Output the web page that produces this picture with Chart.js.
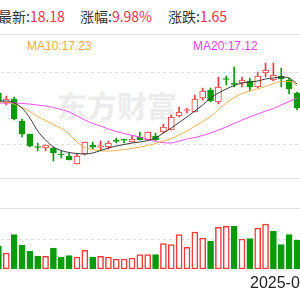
<!DOCTYPE html>
<html><head><meta charset="utf-8">
<script src="https://cdn.jsdelivr.net/npm/chart.js@4.4.1/dist/chart.umd.min.js"></script>
<style>
html,body{margin:0;padding:0;background:#fff;}
body{width:300px;height:300px;overflow:hidden;position:relative;font-family:"Noto Sans CJK SC","Liberation Sans",sans-serif;}
.abs{position:absolute;white-space:nowrap;}
.hd{top:6px;font-size:14px;line-height:20px;color:#333;}
.red{color:#f2334b;}
.ma{top:39px;font-family:"Liberation Sans",Arial,sans-serif;font-size:12px;line-height:14px;}
.line{position:absolute;left:0;width:300px;height:1px;background:#e2e2e2;}
#wm{left:57px;top:86px;font-size:30px;line-height:36px;color:#ececec;font-weight:bold;}
canvas{position:absolute;}
#date{left:250px;top:273px;font-family:"Liberation Sans",Arial,sans-serif;font-size:16px;line-height:20px;color:#222;}
</style></head>
<body>
<div class="abs hd" style="left:-2px">最新:<span class="red">18.18</span></div>
<div class="abs hd" style="left:80px">涨幅:<span class="red">9.98%</span></div>
<div class="abs hd" style="left:168px">涨跌:<span class="red">1.65</span></div>
<div class="line" style="top:34px"></div>
<div class="abs ma" style="left:27px;color:#f5ab3c">MA10:17.23</div>
<div class="abs ma" style="left:193px;color:#f03ef0">MA20:17.12</div>
<div id="wm" class="abs">东方财富</div>
<canvas id="k" width="307" height="144" style="left:-6px;top:36px;width:307px;height:144px"></canvas>
<div class="line" style="top:178px"></div>
<div class="line" style="top:208px"></div>
<canvas id="v" width="307" height="60" style="left:-6px;top:209px;width:307px;height:60px"></canvas>
<div id="date" class="abs">2025-0</div>
<script>
// trading-day index (dates not visible in the crop)
const days = ['1','2','3','4','5','6','7','8','9','10','11','12','13','14','15','16','17','18','19','20',
              '21','22','23','24','25','26','27','28','29','30','31','32','33','34','35','36','37','38','39'];
const open  = [17.23,16.83,16.99,16.11,15.59,15.09,15.03,15.03,14.77,14.71,14.39,14.79,15.15,15.06,15.07,15.35,15.36,15.27,15.47,15.35,
               15.51,15.67,15.75,16.31,16.53,16.47,17.03,17.35,16.87,17.79,17.63,17.63,17.71,17.47,18.03,17.75,17.91,17.75,17.23];
const high  = [17.35,17.11,17.07,16.19,15.59,15.23,15.15,15.07,14.91,14.83,14.79,15.27,15.27,15.31,15.31,15.43,15.39,15.51,15.67,15.67,
               15.63,15.99,16.35,16.67,16.63,17.15,17.43,17.43,17.87,17.91,18.27,17.87,17.83,18.07,18.43,18.43,18.23,17.83,17.27];
const low   = [16.75,16.75,16.15,15.47,15.07,14.91,14.91,14.51,14.63,14.55,14.39,14.75,14.99,14.95,14.99,15.23,15.23,15.27,15.35,15.33,
               15.33,15.63,15.75,16.27,16.43,16.47,16.95,16.87,16.79,17.55,17.47,17.47,17.31,17.43,17.87,17.71,17.47,17.19,16.55];
const close = [16.87,16.99,16.19,15.59,15.11,15.05,15.15,14.83,14.75,14.55,14.71,15.27,15.06,15.12,15.23,15.29,15.34,15.39,15.35,15.67,
               15.35,15.87,16.27,16.47,16.57,16.99,17.31,16.91,17.47,17.77,17.57,17.75,17.47,17.91,18.15,17.95,17.79,17.39,16.63];
const ma5   = [16.91,16.91,16.83,16.63,16.23,15.71,15.35,15.07,14.93,14.85,14.81,14.79,14.83,14.93,15.03,15.11,15.17,15.23,15.27,15.33,
               15.43,15.63,15.83,16.05,16.27,16.51,16.75,17.03,17.23,17.39,17.53,17.63,17.67,17.71,17.79,17.83,17.87,17.83,17.59];
const ma10  = [16.87,16.87,16.79,16.65,16.49,16.29,16.13,15.97,15.81,15.59,15.27,15.05,14.97,14.91,14.91,14.93,14.97,15.01,15.07,15.13,
               15.21,15.31,15.41,15.55,15.71,15.91,16.09,16.29,16.57,16.83,17.05,17.21,17.31,17.39,17.49,17.61,17.69,17.69,17.53];
const ma20  = [16.83,16.83,16.83,16.81,16.79,16.75,16.71,16.65,16.57,16.47,16.31,16.15,16.01,15.91,15.79,15.69,15.61,15.53,15.47,15.37,
               15.29,15.24,15.23,15.31,15.39,15.45,15.53,15.63,15.75,15.87,16.01,16.15,16.27,16.39,16.51,16.61,16.75,16.89,17.03];
const volume = [22.6,16.0,34.3,23.6,17.6,12.6,12.6,21.0,12.0,13.3,12.0,18.6,12.0,12.6,12.0,10.0,10.0,11.0,14.3,14.3,
                14.3,25.3,24.3,34.3,21.6,37.0,31.0,27.6,41.6,42.6,42.6,30.0,30.3,41.0,45.0,37.6,24.3,34.3,28.6];
const volUp  = [0,1,0,0,0,0,1,0,0,0,1,1,0,1,1,1,1,1,1,1,0,1,1,1,1,1,1,0,1,1,0,1,0,1,1,0,0,0,0];
const priceGrid = [18.07,15.19];
const volGrid = [30];

const RED = '#f23a3a', GREEN = '#0b9a0b';
const up = open.map((o,i)=>close[i] >= o);
const body = open.map((o,i)=>[o, close[i]]);
const wick = low.map((l,i)=>[l, high[i]]);

function yAxis(min,max,grid){
  return {min:min,max:max,position:'left',
    afterFit:s=>{s.width=0;},
    afterBuildTicks:s=>{s.ticks=grid.map(v=>({value:v}));},
    ticks:{display:false},
    border:{display:false,dash:[3,3]},
    grid:{color:'#dcdcdc',drawTicks:false,lineWidth:1}};
}
const common = {animation:false,responsive:false,maintainAspectRatio:false,events:[],
  layout:{padding:{left:0.5,right:0.1,top:0,bottom:0}},
  plugins:{legend:{display:false},tooltip:{enabled:false}}};

new Chart(document.getElementById('k'),{
  data:{labels:days,datasets:[
    {type:'line',data:ma5,borderColor:'#3a3a3a',borderWidth:1,pointRadius:0,cubicInterpolationMode:'monotone'},
    {type:'line',data:ma10,borderColor:'#f5b04a',borderWidth:1,pointRadius:0,cubicInterpolationMode:'monotone'},
    {type:'line',data:ma20,borderColor:'#f34ef3',borderWidth:1,pointRadius:0,cubicInterpolationMode:'monotone'},
    {type:'bar',data:body,grouped:false,barThickness:6,minBarLength:1,borderSkipped:false,borderWidth:1,
      backgroundColor:up.map(u=>u?'#ffffff':GREEN),borderColor:up.map(u=>u?RED:GREEN)},
    {type:'bar',data:wick,grouped:false,barThickness:1,backgroundColor:up.map(u=>u?RED:GREEN)}
  ]},
  options:Object.assign({},common,{scales:{x:{display:false,offset:true},y:yAxis(13.75,19.51,priceGrid)}})
});
new Chart(document.getElementById('v'),{
  data:{labels:days,datasets:[
    {type:'bar',data:volume,grouped:false,barThickness:6,borderSkipped:false,borderWidth:1.5,
      backgroundColor:volUp.map(u=>u?'#ffffff':GREEN),borderColor:volUp.map(u=>u?RED:GREEN)}
  ]},
  options:Object.assign({},common,{scales:{x:{display:false,offset:true},y:yAxis(0,60,volGrid)}})
});
</script>
</body></html>
